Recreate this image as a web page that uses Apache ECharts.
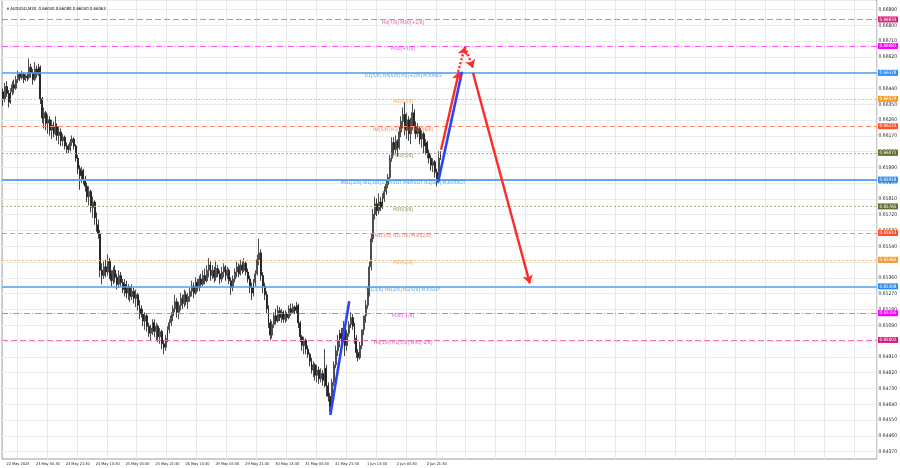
<!DOCTYPE html>
<html><head><meta charset="utf-8">
<script src="https://cdn.jsdelivr.net/npm/echarts@6/dist/echarts.min.js"></script>
<style>html,body{margin:0;padding:0;background:#fff}#c{width:900px;height:468px}</style>
</head><body><div id="c"></div>
<script>
// ---- data ----
const titleText = '\u25BE AUDUSD,M30  0.66040 0.66080 0.66040 0.66063';
const timeLabels = ['22 May 2023','23 May 05:30','23 May 21:30','24 May 13:30','25 May 05:30','25 May 21:30','26 May 13:30','29 May 05:30','29 May 21:30','30 May 13:30','31 May 05:30','31 May 21:30','1 Jun 13:30','2 Jun 05:30','2 Jun 21:30'];
const firstOpen = 0.6642;
const closes = [
0.6638,0.6645,0.6641,0.6636,0.6642,0.6646,0.6644,0.6649,0.6652,0.6650,
0.6652,0.6649,0.6651,0.6650,0.6656,0.6653,0.6649,0.6655,0.6652,0.6656,
0.6638,0.6627,0.6630,0.6624,0.6626,0.6620,0.6623,0.6618,0.6622,0.6617,
0.6619,0.6614,0.6616,0.6611,0.6610,0.6609,0.6613,0.6615,0.6611,0.6604,
0.6598,0.6594,0.6597,0.6592,0.6588,0.6582,0.6585,0.6576,0.6579,0.6570,
0.6566,0.6561,0.6540,0.6537,0.6542,0.6539,0.6545,0.6538,0.6534,0.6540,
0.6536,0.6532,0.6537,0.6533,0.6529,0.6532,0.6527,0.6530,0.6525,0.6528,
0.6524,0.6526,0.6520,0.6518,0.6515,0.6511,0.6514,0.6508,0.6504,0.6507,
0.6510,0.6505,0.6508,0.6502,0.6505,0.6498,0.6496,0.6501,0.6506,0.6510,
0.6514,0.6518,0.6522,0.6516,0.6520,0.6524,0.6521,0.6526,0.6522,0.6525,
0.6528,0.6531,0.6527,0.6533,0.6530,0.6535,0.6532,0.6537,0.6534,0.6540,
0.6543,0.6537,0.6540,0.6536,0.6541,0.6538,0.6535,0.6539,0.6542,0.6537,
0.6540,0.6534,0.6530,0.6535,0.6539,0.6542,0.6538,0.6543,0.6540,0.6544,
0.6539,0.6535,0.6530,0.6527,0.6533,0.6538,0.6546,0.6550,0.6537,0.6531,
0.6526,0.6518,0.6510,0.6503,0.6509,0.6514,0.6511,0.6517,0.6513,0.6516,
0.6512,0.6515,0.6513,0.6518,0.6516,0.6519,0.6517,0.6520,0.6510,0.6502,
0.6497,0.6500,0.6495,0.6492,0.6488,0.6483,0.6486,0.6480,0.6483,0.6478,
0.6481,0.6477,0.6484,0.6474,0.6468,0.6462,0.6476,0.6486,0.6494,0.6500,
0.6504,0.6501,0.6507,0.6497,0.6504,0.6509,0.6513,0.6508,0.6501,0.6493,
0.6490,0.6497,0.6506,0.6514,0.6520,0.6527,0.6542,0.6558,0.6572,0.6578,
0.6574,0.6579,0.6576,0.6581,0.6585,0.6589,0.6593,0.6604,0.6613,0.6609,
0.6614,0.6610,0.6619,0.6625,0.6629,0.6620,0.6626,0.6618,0.6624,0.6630,
0.6622,0.6618,0.6621,0.6615,0.6618,0.6611,0.6613,0.6607,0.6604,0.6600,
0.6602,0.6596,0.6592,0.6604,0.6606];
const highs = [
0.6644,0.6647,0.6648,0.6643,0.6644,0.6648,0.6649,0.6651,0.6654,0.6653,
0.6654,0.6653,0.6652,0.6653,0.6661,0.6658,0.6655,0.6659,0.6657,0.6658,
0.6657,0.6639,0.6633,0.6631,0.6629,0.6628,0.6626,0.6625,0.6628,0.6624,
0.6622,0.6621,0.6618,0.6617,0.6613,0.6612,0.6615,0.6617,0.6616,0.6612,
0.6606,0.6600,0.6599,0.6598,0.6594,0.6590,0.6588,0.6586,0.6582,0.6580,
0.6573,0.6569,0.6563,0.6544,0.6545,0.6546,0.6549,0.6547,0.6540,0.6542,
0.6543,0.6538,0.6540,0.6539,0.6535,0.6535,0.6534,0.6532,0.6531,0.6532,
0.6530,0.6529,0.6527,0.6523,0.6520,0.6518,0.6516,0.6515,0.6510,0.6509,
0.6512,0.6512,0.6510,0.6509,0.6507,0.6506,0.6500,0.6503,0.6508,0.6512,
0.6516,0.6520,0.6526,0.6524,0.6522,0.6527,0.6526,0.6529,0.6528,0.6527,
0.6530,0.6534,0.6533,0.6536,0.6535,0.6537,0.6538,0.6540,0.6541,0.6543,
0.6547,0.6545,0.6543,0.6542,0.6545,0.6543,0.6540,0.6542,0.6544,0.6543,
0.6542,0.6541,0.6536,0.6537,0.6541,0.6545,0.6544,0.6546,0.6545,0.6547,
0.6545,0.6541,0.6537,0.6533,0.6535,0.6540,0.6549,0.6558,0.6552,0.6539,
0.6533,0.6528,0.6520,0.6512,0.6511,0.6516,0.6518,0.6520,0.6519,0.6518,
0.6517,0.6517,0.6516,0.6520,0.6521,0.6521,0.6520,0.6522,0.6521,0.6511,
0.6503,0.6502,0.6501,0.6497,0.6493,0.6490,0.6488,0.6487,0.6486,0.6485,
0.6484,0.6483,0.6495,0.6486,0.6476,0.6470,0.6478,0.6488,0.6497,0.6503,
0.6506,0.6507,0.6511,0.6508,0.6506,0.6511,0.6516,0.6515,0.6510,0.6503,
0.6495,0.6499,0.6506,0.6514,0.6523,0.6530,0.6545,0.6561,0.6575,0.6582,
0.6581,0.6584,0.6582,0.6584,0.6588,0.6591,0.6595,0.6606,0.6616,0.6616,
0.6617,0.6615,0.6622,0.6628,0.6633,0.6636,0.6630,0.6628,0.6627,0.6635,
0.6632,0.6625,0.6624,0.6622,0.6620,0.6619,0.6615,0.6614,0.6609,0.6606,
0.6604,0.6603,0.6598,0.6608,0.6608];
const lows = [
0.6634,0.6636,0.6639,0.6633,0.6635,0.6640,0.6641,0.6643,0.6647,0.6648,
0.6649,0.6647,0.6648,0.6648,0.6649,0.6650,0.6646,0.6648,0.6650,0.6651,
0.6635,0.6624,0.6621,0.6620,0.6618,0.6617,0.6615,0.6616,0.6617,0.6614,
0.6612,0.6611,0.6611,0.6609,0.6607,0.6607,0.6608,0.6611,0.6609,0.6602,
0.6595,0.6586,0.6590,0.6589,0.6585,0.6579,0.6577,0.6573,0.6570,0.6566,
0.6562,0.6558,0.6536,0.6532,0.6535,0.6536,0.6537,0.6535,0.6531,0.6532,
0.6533,0.6529,0.6530,0.6531,0.6527,0.6525,0.6524,0.6523,0.6522,0.6523,
0.6521,0.6519,0.6517,0.6512,0.6513,0.6508,0.6506,0.6505,0.6502,0.6500,
0.6503,0.6502,0.6500,0.6499,0.6498,0.6495,0.6492,0.6494,0.6499,0.6504,
0.6508,0.6511,0.6516,0.6513,0.6512,0.6517,0.6518,0.6519,0.6520,0.6518,
0.6522,0.6525,0.6524,0.6526,0.6528,0.6528,0.6530,0.6531,0.6532,0.6533,
0.6536,0.6534,0.6535,0.6533,0.6534,0.6536,0.6532,0.6533,0.6536,0.6534,
0.6535,0.6532,0.6526,0.6528,0.6533,0.6536,0.6536,0.6537,0.6538,0.6539,
0.6537,0.6533,0.6527,0.6523,0.6525,0.6531,0.6537,0.6543,0.6534,0.6527,
0.6523,0.6515,0.6507,0.6500,0.6501,0.6507,0.6509,0.6510,0.6511,0.6510,
0.6510,0.6510,0.6511,0.6512,0.6514,0.6515,0.6515,0.6515,0.6507,0.6499,
0.6494,0.6492,0.6492,0.6490,0.6485,0.6481,0.6479,0.6477,0.6476,0.6475,
0.6476,0.6474,0.6473,0.6468,0.6465,0.6459,0.6460,0.6474,0.6484,0.6491,
0.6496,0.6499,0.6500,0.6491,0.6494,0.6502,0.6507,0.6506,0.6498,0.6490,
0.6488,0.6489,0.6495,0.6503,0.6510,0.6518,0.6525,0.6540,0.6556,0.6569,
0.6571,0.6572,0.6574,0.6575,0.6579,0.6583,0.6587,0.6591,0.6602,0.6606,
0.6607,0.6605,0.6609,0.6616,0.6621,0.6617,0.6615,0.6614,0.6612,0.6620,
0.6618,0.6615,0.6616,0.6612,0.6610,0.6607,0.6606,0.6604,0.6601,0.6597,
0.6596,0.6593,0.6588,0.6591,0.6603];

const levelPrices = [0.66833,0.66681,0.66528,0.66379,0.66223,0.66071,0.65918,0.65765,0.65613,0.65460,0.65308,0.65155,0.65002];
const levelNames = ['H4[7/8] M30[+2/8]','M30[+1/8]','D1[5/8] H4[6/8] H1[+2/8] M30RES','M30[7/8]','H4[5/8] H1[+1/8] M30[6/8]','M30[5/8]','MN1[3/8] W1[3/8] D1PIVOT H4PIVOT H1[8/8] M30PIVOT','M30[3/8]','H4[3/8] H1[7/8] M30[2/8]','M30[1/8]','D1[3/8] H4[2/8] H1[6/8] M30SUP','M30[-1/8]','H4[1/8] H1[5/8] M30[-2/8]'];
const levelKinds = ['pink','magenta','blue','orange','red','olive','pivot','olive','red','orange','blue','magenta','pink'];

// projection segments: [bar index, price]
const blueLegs = [[[175.1,0.64573],[185.2,0.65223]], [[232.7,0.65901],[245.5,0.66534]]];
const redLegs = [[[234.3,0.66089],[243.9,0.66534]], [[251.4,0.66528],[281.8,0.65325]]];
const redDotLegs = [[[243.4,0.66534],[247.1,0.66676]], [[247.1,0.66676],[251.4,0.66556]]];

// ---- font helpers (pick a narrow face if installed, size text to the reference widths) ----
const mctx = document.createElement('canvas').getContext('2d');
function hasFont(f) {
  const s = 'MN1[3/8] 0.66890 May';
  mctx.font = '20px monospace'; const a = mctx.measureText(s).width;
  mctx.font = '20px "' + f + '", monospace'; const b = mctx.measureText(s).width;
  return Math.abs(a - b) > 0.5;
}
const FACE = ['Liberation Sans Narrow', 'DejaVu Sans Condensed', 'Roboto Condensed', 'Arial Narrow', 'Liberation Sans'].find(hasFont) || 'sans-serif';
const FONT = '"' + FACE + '", sans-serif';
function fit(text, w) { mctx.font = '10px ' + FONT; return Math.min(7, 10 * w / mctx.measureText(text).width); }
const fsX = fit('23 May 05:30', 24);
const fsY = fit('0.66890', 18.5);
const fsLvl = fit('MN1[3/8] W1[3/8] D1PIVOT H4PIVOT H1[8/8] M30PIVOT', 125);
const fsTitle = fit('AUDUSD,M30  0.66040 0.66080 0.66040 0.66063', 96);
const fsTag = fit('0.66833', 17);

// ---- build ----
const N = 468;
const cats = Array.from({length: N}, (_, i) => String(i));
const candles = closes.map((c, i) => {
  const o = i === 0 ? firstOpen : closes[i - 1];
  return [o, c, Math.min(lows[i], o, c), Math.max(highs[i], o, c)];
});
const kindStyle = {
  pink:   {line:'#ea72b6', type:[6,3], w:1, tag:'#d6207f', text:'#c9388f'},
  magenta:{line:'#ff55ff', type:[6,2,1,2], w:1, tag:'#ff00ff', text:'#ee22ee'},
  blue:   {line:'#4f9ff0', type:'solid', w:1.5, tag:'#2b8cf0', text:'#2b8cf0'},
  pivot:  {line:'#5ea8f2', type:'solid', w:2, tag:'#2b8cf0', text:'#2b8cf0'},
  orange: {line:'#f6bb72', type:[2,2], w:1, tag:'#f59c25', text:'#ee9a30'},
  red:    {line:'#ff8c6c', type:[5,3], w:1, tag:'#ff5226', text:'#ff5a2e'},
  olive:  {line:'#aab08c', type:[2,2], w:1, tag:'#5e6f2e', text:'#687a36'}
};
const levelTextBar = 214;
const levelLines = levelPrices.map((p, i) => {
  const s = kindStyle[levelKinds[i]];
  return {
    coords: [[-0.5, p], [N - 0.5, p]],
    lineStyle: {color: s.line, type: s.type, width: s.w, opacity: 1},
    label: {show: true, position: 'end', distance: 1, formatter: p.toFixed(5),
      color: '#fff', backgroundColor: s.tag, padding: [1, 1.5, 0, 1.5], fontSize: fsTag, fontFamily: FONT}
  };
});
const levelTexts = levelPrices.map((p, i) => ({
  value: [levelTextBar, p], name: levelNames[i],
  label: {color: kindStyle[levelKinds[i]].text}
}));
function legs(arr) { return arr.map(a => ({coords: a})); }
const labelSlot = (i) => i >= 8 && (i - 8) % 16 === 0;

const option = {
  animation: false,
  backgroundColor: '#fff',
  title: {text: titleText, left: 2, top: 2, textStyle: {fontSize: fsTitle, fontWeight: 'normal', color: '#111', fontFamily: FONT}},
  grid: [
    {left: 0, right: 23, top: 0, bottom: 9, show: true, borderColor: '#9a9a9a', borderWidth: 1, backgroundColor: 'transparent'},
    {left: 0, right: 23, top: 0, bottom: 16.4, show: false}
  ],
  xAxis: [
    {type: 'category', gridIndex: 0, data: cats, boundaryGap: true,
      axisLine: {show: false}, axisTick: {show: false},
      axisLabel: {interval: 0, hideOverlap: false, showMinLabel: true, showMaxLabel: true,
        formatter: (v) => { const i = +v; return labelSlot(i) ? (timeLabels[(i - 8) / 16] || '') : ''; },
        fontSize: fsX, color: '#222', margin: 2.5, fontFamily: FONT},
      splitLine: {show: true, interval: (idx) => labelSlot(idx), lineStyle: {color: '#e9e9e9', width: 1}}},
    {type: 'value', gridIndex: 0, min: -0.5, max: N - 0.5, show: false},
    {type: 'value', gridIndex: 1, min: 0, max: 1, show: false}
  ],
  yAxis: [
    {type: 'value', gridIndex: 0, min: 0.64322, max: 0.66944, show: false, scale: true},
    {type: 'value', gridIndex: 1, min: 0.64370, max: 0.66944, interval: 0.0009, position: 'right',
      axisLine: {show: false}, axisTick: {show: false},
      axisLabel: {showMaxLabel: false, formatter: v => v.toFixed(5), fontSize: fsY, color: '#222', margin: 3, fontFamily: FONT},
      splitLine: {show: true, lineStyle: {color: '#ececec', width: 1}}}
  ],
  series: [
    {type: 'candlestick', xAxisIndex: 0, yAxisIndex: 0, data: candles, barWidth: 1.4, z: 2,
      itemStyle: {color: '#ffffff', color0: '#111', borderColor: '#222', borderColor0: '#111', borderWidth: 0.8}},
    {type: 'lines', coordinateSystem: 'cartesian2d', xAxisIndex: 1, yAxisIndex: 0, data: levelLines,
      symbol: ['none', 'none'], silent: true, clip: false, z: 3},
    {type: 'scatter', xAxisIndex: 1, yAxisIndex: 0, data: levelTexts, symbolSize: 1, clip: false, z: 4,
      itemStyle: {color: 'rgba(0,0,0,0)'},
      label: {show: true, position: 'bottom', distance: 0, formatter: '{b}', fontSize: fsLvl, fontFamily: FONT}},
    {type: 'lines', coordinateSystem: 'cartesian2d', xAxisIndex: 1, yAxisIndex: 0, data: legs(blueLegs), z: 5,
      symbol: ['none', 'none'], lineStyle: {color: '#2a46f2', width: 2.6, opacity: 1}},
    {type: 'lines', coordinateSystem: 'cartesian2d', xAxisIndex: 1, yAxisIndex: 0, data: legs(redLegs), z: 5,
      symbol: ['none', 'arrow'], symbolSize: 8, lineStyle: {color: '#ff2b2b', width: 2.4, opacity: 1}},
    {type: 'lines', coordinateSystem: 'cartesian2d', xAxisIndex: 1, yAxisIndex: 0, data: legs(redDotLegs), z: 5,
      symbol: ['none', 'arrow'], symbolSize: 8, lineStyle: {color: '#ff2b2b', width: 2.4, type: [2, 2], opacity: 1}}
  ]
};
const chart = echarts.init(document.getElementById('c'));
chart.setOption(option);
</script>
</body></html>
